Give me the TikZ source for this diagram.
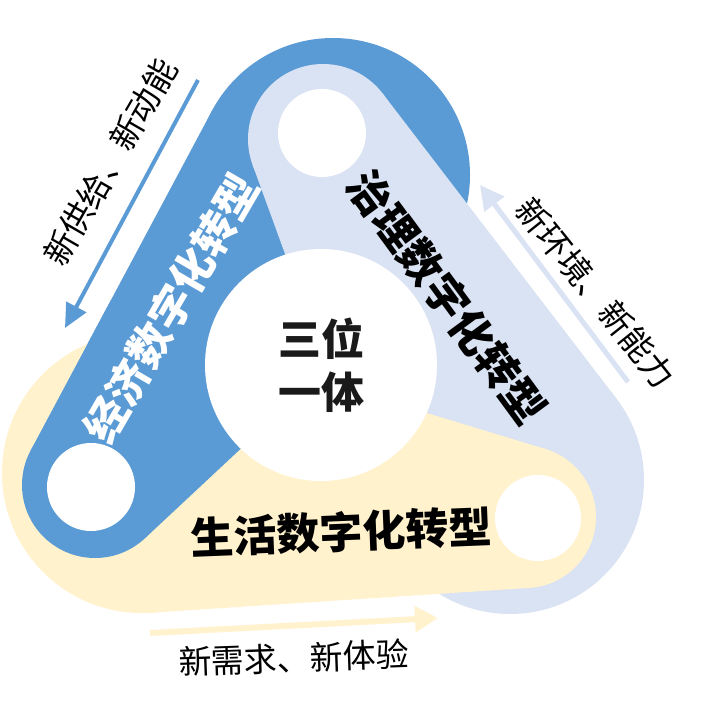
\documentclass[tikz,border=0pt]{standalone}
\usepackage{fontspec}
\newfontfamily\cjk{Noto Sans CJK SC}
\usetikzlibrary{arrows.meta}
\definecolor{cblue}{HTML}{5B9BD5}
\definecolor{clav}{HTML}{DAE3F3}
\definecolor{cyel}{HTML}{FFF2CC}
\definecolor{cink}{HTML}{1A1A1A}
% tapered band: colour, x1, y1, r1, x2, y2, r2
\newcommand\mkband[7]{%
  \pgfmathsetmacro\bdx{#5-#2}\pgfmathsetmacro\bdy{#6-#3}%
  \pgfmathsetmacro\bdd{veclen(\bdx,\bdy)}%
  \pgfmathsetmacro\baa{atan2(\bdy,\bdx)}%
  \pgfmathsetmacro\bph{acos((#4-#7)/\bdd)}%
  \fill[#1] (#2,#3) circle[radius=#4];
  \fill[#1] (#5,#6) circle[radius=#7];
  \fill[#1]
    ({#2+#4*cos(\baa+\bph)},{#3+#4*sin(\baa+\bph)}) --
    ({#5+#7*cos(\baa+\bph)},{#6+#7*sin(\baa+\bph)}) --
    ({#5+#7*cos(\baa-\bph)},{#6+#7*sin(\baa-\bph)}) --
    ({#2+#4*cos(\baa-\bph)},{#3+#4*sin(\baa-\bph)}) -- cycle;}
\tikzset{
  hole/.style={circle,fill=white,inner sep=0pt,minimum size=#1},
  bigtitle/.style={inner sep=0pt,font=\cjk\bfseries\fontsize{43}{50}\selectfont},
  sidelabel/.style={inner sep=0pt,text=black,font=\cjk\fontsize{33}{40}\selectfont},
  flow/.style={line width=#1}
}
\begin{document}
\begin{tikzpicture}[x=1pt,y=-1pt]
\useasboundingbox (0,0) rectangle (725,706);
\fill[white] (0,0) rectangle (725,706);
% bands
\mkband{cblue}{333}{175}{137}{95}{485}{73}
\mkband{clav}{510}{480}{134}{323}{139}{75}
\mkband{cyel}{142}{473}{140}{525}{517}{71}
\begin{scope}
  \clip (0,300) rectangle (725,706);
  \mkband{cblue}{333}{175}{137}{95}{485}{73}
\end{scope}
% holes
\node[hole=88pt] (hblue) at (91,487) {};
\node[hole=88pt] (hlav) at (322,133) {};
\node[hole=86pt] (hyel) at (538,518) {};
% centre
\node[circle,fill=white,inner sep=0pt,minimum size=232pt,align=center,
      text=cink,font=\cjk\bfseries\fontsize{43}{53}\selectfont] (core) at (321,365) {三位\\一体};
% band titles
\node[bigtitle,text=white,rotate=59.8] (econ) at (171,308) {经济数字化转型};
\node[bigtitle,text=black,rotate=-53.7] (gov) at (447,297) {治理数字化转型};
\node[bigtitle,text=black,rotate=2.3] (life) at (341,532) {生活数字化转型};
% side labels
\node[sidelabel,rotate=60] (lblue) at (110,162) {新供给、新动能};
\node[sidelabel,rotate=-51.3] (llav) at (596,293) {新环境、新能力};
\node[sidelabel,rotate=2] (lyel) at (294,658) {新需求、新体验};
% flow arrows
\coordinate (b1) at (198,80);  \coordinate (b2) at (65,328);
\coordinate (v1) at (628,382); \coordinate (v2) at (480,185);
\coordinate (y1) at (150,633); \coordinate (y2) at (438,618);
\draw[cblue,flow=4pt,-{Triangle[length=24pt,width=22pt]}] (b1) -- (b2);
\draw[clav,flow=5pt,-{Triangle[length=24pt,width=24pt]}] (v1) -- (v2);
\draw[cyel,flow=6pt,-{Triangle[length=23pt,width=25pt]}] (y1) -- (y2);
\end{tikzpicture}
\end{document}
